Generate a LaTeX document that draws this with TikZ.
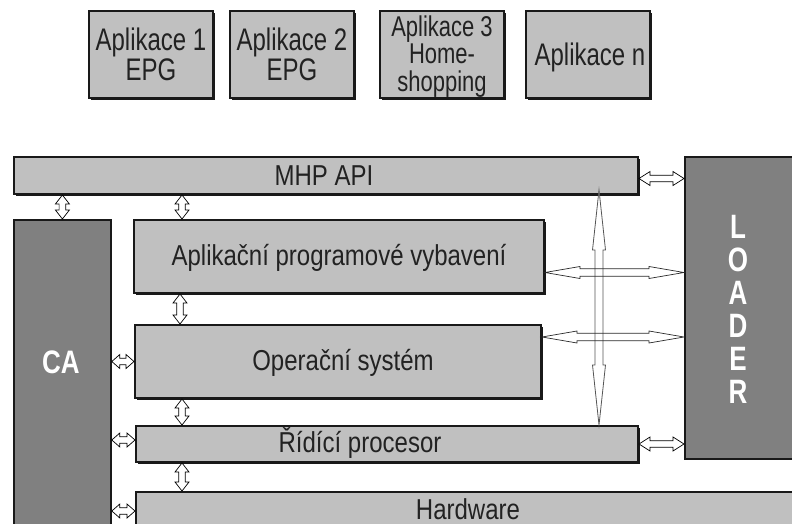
\documentclass[tikz,border=0pt]{standalone}
\usepackage{fontspec}
\setmainfont{Liberation Sans}
\usetikzlibrary{calc,shadows}
\definecolor{boxgray}{HTML}{C0C0C0}
\definecolor{darkfill}{HTML}{808080}
\definecolor{txt}{HTML}{222222}
\definecolor{vshaft}{HTML}{555555}
\definecolor{hshaft}{HTML}{2A2A2A}
% horizontal double arrow: [style]{left tip}{right tip}{shaft half}{head half}{head length}
\newcommand\hdarr[6][]{%
  \draw[#1] let \p1=#2, \p2=#3 in (\x1,\y1) -- ++(#6,-#5) -- ++(0,#5-#4)
    -- ++({\x2-\x1-2*#6},0) -- ++(0,#4-#5) -- ++(#6,#5) -- ++(-#6,#5)
    -- ++(0,#4-#5) -- ++({\x1-\x2+2*#6},0) -- ++(0,#5-#4) -- cycle;}
% vertical double arrow: [style]{top tip}{bottom tip}{shaft half}{head half}{head length}
\newcommand\vdarr[6][]{%
  \draw[#1] let \p1=#2, \p2=#3 in (\x1,\y1) -- ++(-#5,#6) -- ++(#5-#4,0)
    -- ++(0,{\y2-\y1+2*#6}) -- ++(#4-#5,0) -- ++(#5,#6) -- ++(#5,-#6)
    -- ++(#4-#5,0) -- ++(0,{\y1-\y2-2*#6}) -- ++(#5-#4,0) -- cycle;}
\newcommand\vs[2][1.2]{\scalebox{1}[#1]{#2}}
\begin{document}
\begin{tikzpicture}[x=1pt,y=-1pt,
  box/.style={draw=black!90, line width=2pt, fill=boxgray, inner sep=0pt, anchor=north west},
  shbox/.style={box, drop shadow={shadow xshift=1.8pt, shadow yshift=-1.6pt, fill=black!90, opacity=1}},
  darkbox/.style={draw=black!90, line width=1.8pt, fill=darkfill, inner sep=0pt, anchor=north west},
  lbl/.style={font=\fontsize{24}{28}\selectfont, text=txt, inner sep=0pt},
  applbl/.style={font=\fontsize{24}{21.5}\selectfont, text=txt, inner sep=0pt},
  wlbl/.style={font=\fontsize{26}{26}\selectfont\bfseries, text=white, inner sep=0pt},
  small/.style={draw=black, line width=0.7pt, fill=white, line join=miter},
  bigv/.style={draw=vshaft, line width=0.8pt, line join=miter},
  bigh/.style={draw=hshaft, line width=0.7pt, line join=miter},
]
\useasboundingbox (0,0) rectangle (792,524);
\clip (0,0) rectangle (792,524);

% applications
\node[shbox, minimum width=124pt, minimum height=87pt] (app1) at (88,10) {};
\node[shbox, minimum width=124pt, minimum height=87pt] (app2) at (229,10) {};
\node[shbox, minimum width=124pt, minimum height=87pt] (app3) at (379,10) {};
\node[shbox, minimum width=124pt, minimum height=87pt] (appn) at (525,10) {};
\node[applbl] (t1) at ($(app1.center)+(0,4)$) {\vs[1.3]{\begin{tabular}{@{}c@{}}Aplikace 1\\EPG\end{tabular}}};
\node[applbl] (t2) at ($(app2.center)+(0,4)$) {\vs[1.3]{\begin{tabular}{@{}c@{}}Aplikace 2\\EPG\end{tabular}}};
\node[applbl, font=\fontsize{22}{19.5}\selectfont] (t3) at ($(app3.center)+(0,3)$) {\vs[1.3]{\begin{tabular}{@{}c@{}}Aplikace 3\\Home-\\shopping\end{tabular}}};
\node[applbl] (tn) at ($(appn.center)+(2,3)$) {\vs[1.3]{Aplikace n}};

% layers
\node[shbox, minimum width=624pt, minimum height=37pt] (mhp) at (13,156) {};
\node[lbl] (tmhp) at ($(mhp.center)+(-2,0)$) {\vs{MHP API}};
\node[shbox, minimum width=410pt, minimum height=73pt] (apl) at (133,219) {};
\node[lbl] (tapl) at ($(apl.center)+(0,1)$) {\vs{Aplikační programové vybavení}};
\node[shbox, minimum width=406pt, minimum height=73pt] (op) at (134,324) {};
\node[lbl] (top) at ($(op.center)+(5,1)$) {\vs{Operační systém}};
\node[shbox, minimum width=502pt, minimum height=36pt] (rid) at (135,425) {};
\node[lbl] (trid) at (360,443) {\vs{Řídící procesor}};
\node[shbox, minimum width=680pt, minimum height=50pt] (hw) at (135,491) {};
\node[lbl] (thw) at (468,509) {\vs{Hardware}};

% CA and LOADER
\node[darkbox, minimum width=97pt, minimum height=330pt] (ca) at (13,219) {};
\node[wlbl] (tca) at (61,362) {\vs[1.25]{CA}};
\node[darkbox, minimum width=120pt, minimum height=302pt] (loader) at (684,156) {};
\node[wlbl, font=\fontsize{26}{24.6}\selectfont\bfseries] (tloader) at (738,314)
  {\vs[1.3]{\begin{tabular}{@{}c@{}}L\\O\\A\\D\\E\\R\end{tabular}}};

% small vertical arrows
\vdarr[small]{(ca.north |- mhp.south)}{(ca.north)}{3.3}{7}{9}
\coordinate (a2) at ($(apl.north west)+(49,0)$);
\vdarr[small]{(a2 |- mhp.south)}{(a2)}{3.3}{7}{9}
\coordinate (a3) at ($(apl.south west)+(47,0)$);
\vdarr[small]{(a3)}{(a3 |- op.north)}{3.3}{7}{9}
\coordinate (a4) at ($(op.south west)+(48,0)$);
\vdarr[small]{(a4)}{(a4 |- rid.north)}{3.3}{7}{9}
\coordinate (a5) at ($(rid.south west)+(47,0)$);
\vdarr[small]{(a5)}{(a5 |- hw.north)}{3.3}{7}{9}

% small horizontal arrows
\hdarr[small]{(ca.east |- op.west)}{(op.west)}{3.3}{7}{8}
\coordinate (b7) at ($(rid.west)+(0,-4)$);
\hdarr[small]{(ca.east |- b7)}{(b7)}{3.3}{7}{8}
\coordinate (b8) at ($(hw.north west)+(0,20)$);
\hdarr[small]{(ca.east |- b8)}{(b8)}{3.3}{7}{8}
\coordinate (b9) at ($(mhp.east)+(0,3)$);
\hdarr[small]{(b9)}{(loader.west |- b9)}{3.3}{7}{11}
\hdarr[small]{(rid.east)}{(loader.west |- rid.east)}{3.3}{7}{11}

% big arrows
\coordinate (vtop) at ($(mhp.south west)+(586,-5)$);
\vdarr[bigv]{(vtop)}{(vtop |- rid.north)}{4}{6.5}{60}
\coordinate (h1) at ($(apl.east)+(0,16)$);
\hdarr[bigh]{(h1)}{(loader.west |- h1)}{3.8}{6}{35}
\coordinate (h2) at ($(op.north east)+(0,13)$);
\hdarr[bigh]{(h2)}{(loader.west |- h2)}{3.8}{6}{35}
\end{tikzpicture}
\end{document}
